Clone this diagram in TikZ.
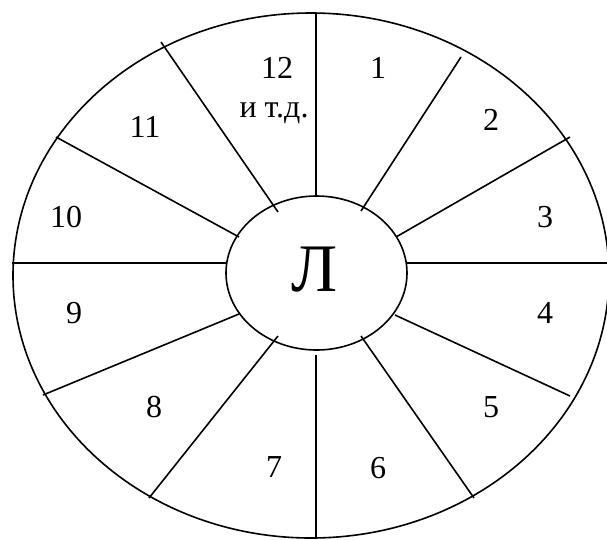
\documentclass[tikz,border=0pt]{standalone}
\usepackage{fontspec}
\setmainfont{Liberation Serif}
\usetikzlibrary{shapes.geometric}
\begin{document}
\begin{tikzpicture}[x=1pt,y=-1pt,
  ln/.style={line width=1.6pt, line cap=butt},
  num/.style={font=\fontsize{32}{38}\selectfont, inner sep=0pt},
  big/.style={font=\fontsize{68}{80}\selectfont, inner sep=0pt}]
\useasboundingbox (0,0) rectangle (607,539);
% outer ellipse
\draw[ln] (311,275.5) ellipse [x radius=298, y radius=262.5];
% inner ellipse
\node[ellipse, draw, line width=1.6pt, minimum width=181pt, minimum height=154pt, inner sep=0pt] (L) at (316.5,273) {};
\node[big] (Ltext) at (315,270) {Л};
% endpoints of radial lines
\coordinate (o0) at (316,13);   \coordinate (i0) at (316,196);
\coordinate (o1) at (461,57);   \coordinate (i1) at (361,211);
\coordinate (o2) at (570,137);  \coordinate (i2) at (396,237);
\coordinate (o3) at (607,263);  \coordinate (i3) at (407,263);
\coordinate (o4) at (570,396);  \coordinate (i4) at (395,315);
\coordinate (o5) at (474,498);  \coordinate (i5) at (361,336);
\coordinate (o6) at (316,538);  \coordinate (i6) at (316,355);
\coordinate (o7) at (149,498);  \coordinate (i7) at (278,336);
\coordinate (o8) at (43,395);   \coordinate (i8) at (239,314);
\coordinate (o9) at (12,263);   \coordinate (i9) at (226,263);
\coordinate (o10) at (56,137);  \coordinate (i10) at (239,237);
\coordinate (o11) at (161,42);  \coordinate (i11) at (278,212);
\foreach \k in {0,...,11} {\draw[ln] (o\k) -- (i\k);}
% labels
\node[num] (n12) at (277,68) {12};
\node[num, anchor=base] (etc) at (274,117) {и т.д.};
\node[num] (n1) at (378,68) {1};
\node[num] (n2) at (491,120) {2};
\node[num] (n3) at (545,217) {3};
\node[num] (n4) at (545,313) {4};
\node[num] (n5) at (491,407) {5};
\node[num] (n6) at (378,468) {6};
\node[num] (n7) at (274,467) {7};
\node[num] (n8) at (154,407) {8};
\node[num] (n9) at (74,313) {9};
\node[num] (n10) at (66,217) {10};
\node[num] (n11) at (145,127) {11};
\end{tikzpicture}
\end{document}
